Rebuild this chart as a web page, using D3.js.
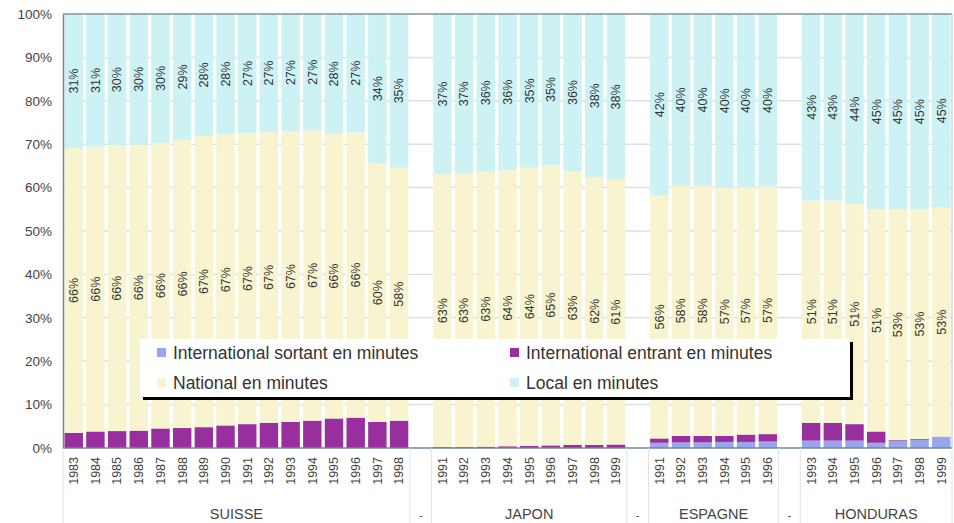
<!DOCTYPE html>
<html>
<head>
<meta charset="utf-8">
<script src="https://cdn.jsdelivr.net/npm/d3@7"></script>
<style>
  body { margin: 0; background: #fff; }
  text { font-family: "Liberation Sans", Arial, sans-serif; }
</style>
</head>
<body>
<script>
// countries and their years (a "-" slot sits between countries)
var groups = ["SUISSE", "JAPON", "ESPAGNE", "HONDURAS"];
var years = [
  ["1983","1984","1985","1986","1987","1988","1989","1990","1991","1992","1993","1994","1995","1996","1997","1998"],
  ["1991","1992","1993","1994","1995","1996","1997","1998","1999"],
  ["1991","1992","1993","1994","1995","1996"],
  ["1993","1994","1995","1996","1997","1998","1999"]
];

// shares in % of minutes, one value per year, countries one after the other
var sortant  = [0,0,0,0,0,0,0,0,0,0,0,0,0,0,0,0,
                0,0,0,0,0,0,0,0,0,
                1.2,1.3,1.3,1.4,1.4,1.5,
                1.7,1.7,1.7,1.2,1.6,1.9,2.5];
var entrant  = [3.5,3.8,3.9,4.0,4.5,4.6,4.8,5.2,5.5,5.8,6.0,6.3,6.8,7.0,6.0,6.3,
                0.2,0.2,0.3,0.4,0.5,0.6,0.7,0.7,0.8,
                1.0,1.5,1.5,1.4,1.7,1.7,
                4.1,4.1,3.8,2.6,0.2,0.2,0.1];
var national = [65.6,65.6,65.8,65.9,65.8,66.4,67.1,67.1,67.1,67.0,67.0,66.9,65.6,65.7,59.6,58.3,
                62.9,63.0,63.4,63.6,64.1,64.6,63.1,61.6,61.0,
                56.0,57.6,57.6,57.2,57.0,57.0,
                51.2,51.2,50.7,51.2,53.2,52.9,52.8];
var local    = [30.9,30.6,30.3,30.1,29.7,29.0,28.1,27.7,27.4,27.2,27.0,26.8,27.6,27.3,34.4,35.4,
                36.9,36.8,36.3,36.0,35.4,34.8,36.2,37.7,38.2,
                41.8,39.6,39.6,40.0,39.9,39.8,
                43.0,43.0,43.8,45.0,45.0,45.0,44.6];

var seriesKeys = ["sortant", "entrant", "national", "local"];
var seriesNames = ["International sortant en minutes", "International entrant en minutes",
                   "National en minutes", "Local en minutes"];
var colors = {sortant: "#99a6ee", entrant: "#992f9e", national: "#f7f4cf", local: "#cdf2f4"};
var yTicks = [0, 0.1, 0.2, 0.3, 0.4, 0.5, 0.6, 0.7, 0.8, 0.9, 1];

// build the slots: bars + blank "-" slots between countries
var rows = [], groupSpans = [], k = 0;
groups.forEach(function(g, gi){
  if (gi > 0) {
    rows.push({id: "gap" + gi, year: "", blank: true});
    groupSpans.push({name: "-", first: rows.length - 1, last: rows.length - 1});
  }
  var first = rows.length;
  years[gi].forEach(function(yr){
    rows.push({id: g + yr, year: yr, blank: false,
      sortant: sortant[k], entrant: entrant[k], national: national[k], local: local[k]});
    k++;
  });
  groupSpans.push({name: g, first: first, last: rows.length - 1});
});

var w = 954, h = 523;
var plotLeft = 63, plotRight = 952, plotTop = 14, plotBottom = 448;

var svg = d3.select("body").append("svg")
  .attr("width", w).attr("height", h);

var x = d3.scaleBand().domain(rows.map(function(d){ return d.id; }))
  .range([plotLeft, plotRight]).paddingInner(0.15).paddingOuter(0.07);
var y = d3.scaleLinear().domain([0, 1]).range([plotBottom, plotTop]);

// gridlines
svg.append("g").selectAll("line").data(yTicks.slice(1, -1)).join("line")
  .attr("x1", plotLeft).attr("x2", plotRight)
  .attr("y1", function(d){ return y(d); }).attr("y2", function(d){ return y(d); })
  .attr("stroke", "#d6e2ea").attr("stroke-width", 1.5);

// stacked bars
var bars = rows.filter(function(d){ return !d.blank; });
var stack = d3.stack().keys(seriesKeys).offset(d3.stackOffsetExpand)(bars);

svg.append("g").selectAll("g").data(stack).join("g")
  .attr("fill", function(s){ return colors[s.key]; })
  .selectAll("rect").data(function(s){ return s; }).join("rect")
  .attr("x", function(d){ return x(d.data.id); })
  .attr("width", x.bandwidth())
  .attr("y", function(d){ return y(d[1]); })
  .attr("height", function(d){ return y(d[0]) - y(d[1]); });

// data labels for national and local
var labelled = stack.filter(function(s){ return s.key === "national" || s.key === "local"; });
svg.append("g").selectAll("g").data(labelled).join("g")
  .selectAll("text").data(function(s){ return s; }).join("text")
  .attr("transform", function(d){
    return "translate(" + (x(d.data.id) + x.bandwidth() / 2) + "," + y((d[0] + d[1]) / 2) + ") rotate(-90)";
  })
  .attr("text-anchor", "middle").attr("dy", "0.35em")
  .attr("font-size", 12.5).attr("fill", "#333")
  .text(function(d){ return Math.round((d[1] - d[0]) * 100) + "%"; });

// frame
svg.append("line").attr("x1", plotLeft).attr("x2", plotRight).attr("y1", plotTop).attr("y2", plotTop)
  .attr("stroke", "#7f93a3").attr("stroke-width", 1.5);
svg.append("line").attr("x1", plotRight).attr("x2", plotRight).attr("y1", plotTop).attr("y2", plotBottom)
  .attr("stroke", "#b9c6d0").attr("stroke-width", 1);

// y axis
var yAxis = svg.append("g").attr("transform", "translate(" + plotLeft + ",0)")
  .call(d3.axisLeft(y).tickValues(yTicks).tickFormat(d3.format(".0%")).tickSize(0).tickPadding(11));
yAxis.select(".domain").attr("stroke", "#6f8798").attr("stroke-width", 1.5);
yAxis.selectAll("text").attr("font-size", 13.5).attr("fill", "#444")
  .attr("font-family", "Liberation Sans, Arial, sans-serif");

// x axis line
svg.append("line").attr("x1", plotLeft).attr("x2", plotRight).attr("y1", plotBottom).attr("y2", plotBottom)
  .attr("stroke", "#6f8798").attr("stroke-width", 1.5);

// year labels
svg.append("g").selectAll("text").data(bars).join("text")
  .attr("transform", function(d){
    return "translate(" + (x(d.id) + x.bandwidth() / 2) + "," + (plotBottom + 9) + ") rotate(-90)";
  })
  .attr("text-anchor", "end").attr("dy", "0.35em")
  .attr("font-size", 12.5).attr("fill", "#444")
  .text(function(d){ return d.year; });

// group separators and names
var step = x.step();
var edges = [plotLeft];
groupSpans.forEach(function(s){
  edges.push(x(rows[s.last].id) + x.bandwidth() + step * x.paddingInner() / 2);
});
edges[edges.length - 1] = plotRight;
svg.append("g").selectAll("line").data(edges).join("line")
  .attr("x1", function(d){ return d; }).attr("x2", function(d){ return d; })
  .attr("y1", plotBottom).attr("y2", h)
  .attr("stroke", "#dde3e8").attr("stroke-width", 1);

svg.append("g").selectAll("text").data(groupSpans).join("text")
  .attr("x", function(s){
    return (x(rows[s.first].id) + x(rows[s.last].id) + x.bandwidth()) / 2;
  })
  .attr("y", 519)
  .attr("text-anchor", "middle")
  .attr("font-size", function(s){ return s.name === "-" ? 11 : 14.5; })
  .attr("fill", "#444")
  .text(function(s){ return s.name; });

// legend box with shadow
var lg = svg.append("g");
lg.append("rect").attr("x", 143).attr("y", 342).attr("width", 710).attr("height", 58).attr("fill", "#000");
lg.append("rect").attr("x", 140).attr("y", 339).attr("width", 710).attr("height", 58).attr("fill", "#fff");

var legendPos = [[157, 348], [510, 348], [157, 378], [510, 378]];
seriesKeys.forEach(function(key, i){
  var p = legendPos[i];
  lg.append("rect").attr("x", p[0]).attr("y", p[1]).attr("width", 9).attr("height", 9)
    .attr("fill", colors[key]);
  lg.append("text").attr("x", p[0] + 16).attr("y", p[1] + 11)
    .attr("font-size", 17.5).attr("fill", "#333")
    .text(seriesNames[i]);
});
</script>
</body>
</html>
